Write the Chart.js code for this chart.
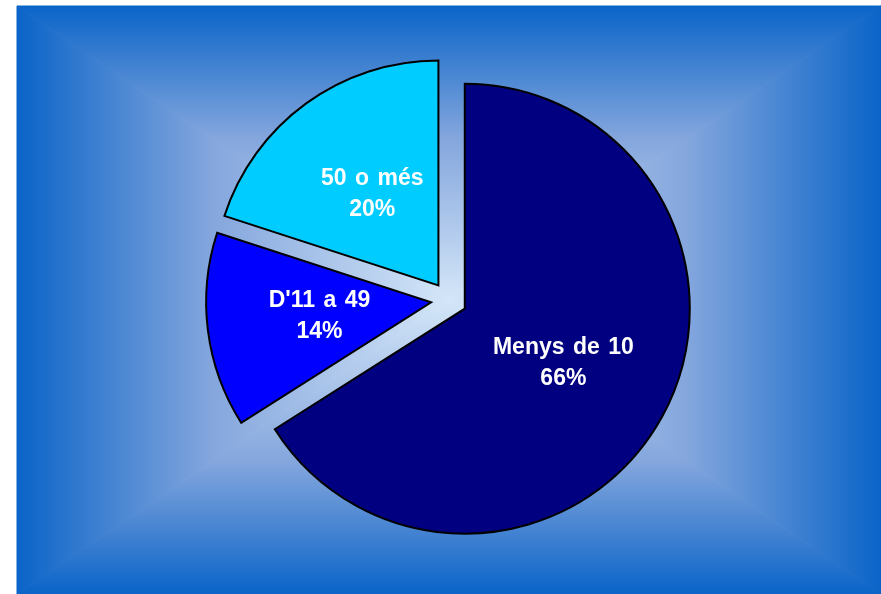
<!DOCTYPE html>
<html>
<head>
<meta charset="utf-8">
<script src="https://cdn.jsdelivr.net/npm/chart.js@4.4.1/dist/chart.umd.min.js"></script>
<style>
    html, body { margin: 0; padding: 0; background: #ffffff; }
    #wrap { width: 881px; height: 594px; }
</style>
</head>
<body>
<div id="wrap"><canvas id="pieChart" width="881" height="594"></canvas></div>
<script>
const categories = ['Menys de 10', "D'11 a 49", '50 o més'];
const shares = [66, 14, 20];
const sliceColors = ['#000080', '#0000FF', '#00CCFF'];

const explode = 72;     // chart.js moves a slice by offset / 4
const pieRadius = 225;

// rectangular "from centre" gradient behind the pie
const frameBackground = {
    id: 'frameBackground',
    beforeDraw(chart) {
        const {ctx, chartArea: a} = chart;
        const cx = (a.left + a.right) / 2;
        const cy = (a.top + a.bottom) / 2;
        const sides = [
            [[a.left, a.top], [a.right, a.top], [0, a.top, 0, cy]],
            [[a.right, a.top], [a.right, a.bottom], [a.right, 0, cx, 0]],
            [[a.right, a.bottom], [a.left, a.bottom], [0, a.bottom, 0, cy]],
            [[a.left, a.bottom], [a.left, a.top], [a.left, 0, cx, 0]]
        ];
        ctx.save();
        sides.forEach(([p1, p2, g]) => {
            const grad = ctx.createLinearGradient(g[0], g[1], g[2], g[3]);
            grad.addColorStop(0, '#0A64C8');
            grad.addColorStop(0.45, '#84A6DD');
            grad.addColorStop(1, '#D4E6F8');
            ctx.beginPath();
            ctx.moveTo(p1[0], p1[1]);
            ctx.lineTo(p2[0], p2[1]);
            ctx.lineTo(cx, cy);
            ctx.closePath();
            ctx.fillStyle = grad;
            ctx.strokeStyle = grad;
            ctx.lineWidth = 1;
            ctx.fill();
            ctx.stroke();
        });
        ctx.restore();
    }
};

// exploded slices in chart.js get a bigger radius and a narrower angle,
// bring them back to one radius and their true angles
const keepRadius = {
    id: 'keepRadius',
    beforeDatasetsDraw(chart) {
        chart.getDatasetMeta(0).data.forEach(arc => {
            if (!arc.$base) {
                arc.$base = { start: arc.startAngle, end: arc.endAngle };
            }
            const grow = (explode / 4) * (1 - Math.sin(Math.min(Math.PI, arc.circumference)));
            const trim = (grow / Math.PI) / pieRadius / 2;
            arc.outerRadius = pieRadius - grow;
            arc.startAngle = arc.$base.start - trim;
            arc.endAngle = arc.$base.end + trim;
        });
    }
};

const sliceLabels = {
    id: 'sliceLabels',
    afterDatasetsDraw(chart) {
        const ctx = chart.ctx;
        ctx.save();
        ctx.fillStyle = '#ffffff';
        ctx.font = 'bold 23px "Liberation Sans", Arial, sans-serif';
        ctx.wordSpacing = '2px';
        ctx.textAlign = 'center';
        ctx.textBaseline = 'middle';
        chart.getDatasetMeta(0).data.forEach((arc, i) => {
            const half = (arc.startAngle + arc.endAngle) / 2;
            const dist = explode / 4 + pieRadius / 2;
            const x = arc.x + Math.cos(half) * dist;
            const y = arc.y + Math.sin(half) * dist;
            ctx.fillText(categories[i], x, y - 15.5);
            ctx.fillText(shares[i] + '%', x, y + 15.5);
        });
        ctx.restore();
    }
};

const pieCtx = document.getElementById('pieChart').getContext('2d');
new Chart(pieCtx, {
    type: 'pie',
    data: {
        labels: categories,
        datasets: [{
            data: shares,
            backgroundColor: sliceColors,
            borderColor: '#000000',
            borderWidth: 2,
            borderJoinStyle: 'miter',
            offset: explode,
            hoverOffset: 0
        }]
    },
    options: {
        responsive: false,
        animation: false,
        events: [],
        radius: pieRadius,
        layout: {
            padding: { left: 17, top: 6, right: 0, bottom: 0 }
        },
        plugins: {
            legend: { display: false },
            tooltip: { enabled: false }
        }
    },
    plugins: [frameBackground, keepRadius, sliceLabels]
});
</script>
</body>
</html>
